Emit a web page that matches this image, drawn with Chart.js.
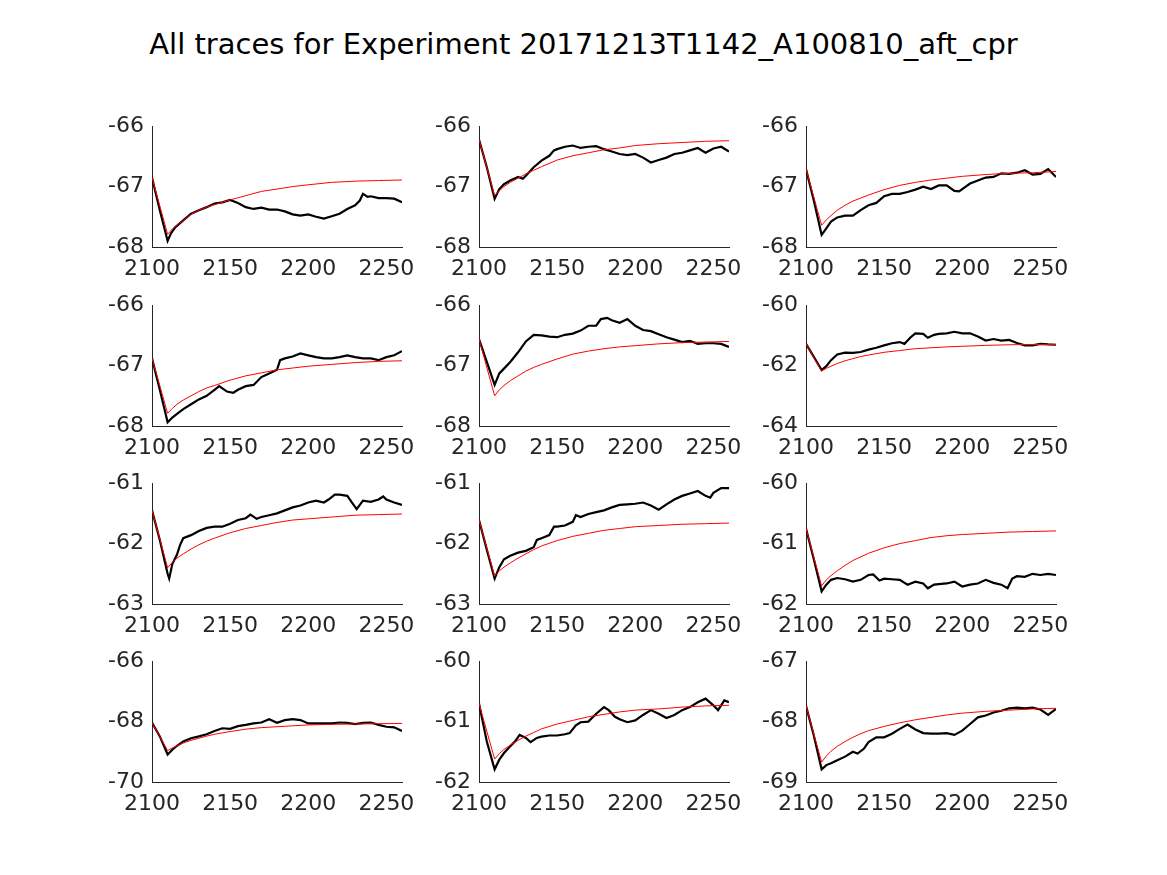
<!DOCTYPE html>
<html>
<head>
<meta charset="utf-8">
<script src="https://cdn.jsdelivr.net/npm/chart.js@4.4.1/dist/chart.umd.min.js"></script>
<style>
  body { margin: 0; background: #fff; }
  #figure { position: relative; width: 1167px; height: 875px; background: #fff; overflow: hidden; }
  #title { position: absolute; left: 0; top: 27px; width: 1167px; text-align: center;
           font-family: "DejaVu Sans"; font-size: 29px; color: #000; white-space: nowrap; }
  canvas { position: absolute; }
</style>
</head>
<body>
<div id="figure">
  <div id="title">All traces for Experiment 20171213T1142_A100810_aft_cpr</div>
</div>
<script>
// x positions of the fitted (red) curves, shared by all panels
const fitX = [2100, 2110, 2113, 2116, 2120, 2125, 2130, 2135, 2140, 2150, 2160, 2170, 2180, 2190, 2200, 2215, 2230, 2245, 2260];

const fit1 = [-66.85, -67.79, -67.70, -67.64, -67.56, -67.46, -67.39, -67.34, -67.30, -67.22, -67.15, -67.08, -67.04, -67.00, -66.97, -66.93, -66.91, -66.90, -66.89];
const fit2 = [-66.22, -67.15, -67.07, -67.00, -66.93, -66.86, -66.79, -66.73, -66.67, -66.56, -66.49, -66.44, -66.39, -66.36, -66.32, -66.29, -66.27, -66.25, -66.24];
const fit3 = [-66.71, -67.64, -67.55, -67.48, -67.39, -67.31, -67.24, -67.19, -67.14, -67.05, -66.98, -66.93, -66.89, -66.86, -66.83, -66.80, -66.78, -66.77, -66.75];
const fit4 = [-66.88, -67.79, -67.71, -67.64, -67.57, -67.50, -67.43, -67.37, -67.33, -67.24, -67.17, -67.12, -67.07, -67.04, -67.01, -66.98, -66.95, -66.93, -66.92];
const fit5 = [-66.56, -67.50, -67.40, -67.33, -67.25, -67.17, -67.09, -67.03, -66.98, -66.89, -66.81, -66.76, -66.72, -66.69, -66.67, -66.64, -66.62, -66.61, -66.60];
const fit6 = [-61.28, -62.18, -62.09, -62.02, -61.93, -61.84, -61.77, -61.70, -61.65, -61.56, -61.50, -61.44, -61.41, -61.38, -61.36, -61.33, -61.31, -61.30, -61.30];
const fit7 = [-61.45, -62.40, -62.31, -62.24, -62.17, -62.09, -62.02, -61.96, -61.91, -61.82, -61.75, -61.70, -61.65, -61.61, -61.59, -61.56, -61.53, -61.52, -61.51];
const fit8 = [-61.61, -62.54, -62.45, -62.39, -62.32, -62.24, -62.17, -62.10, -62.04, -61.95, -61.88, -61.83, -61.78, -61.75, -61.72, -61.70, -61.68, -61.67, -61.66];
const fit9 = [-60.75, -61.70, -61.60, -61.53, -61.45, -61.36, -61.28, -61.22, -61.16, -61.07, -61.00, -60.95, -60.90, -60.87, -60.85, -60.83, -60.81, -60.80, -60.79];
const fit10 = [-68.03, -68.96, -68.87, -68.80, -68.71, -68.62, -68.55, -68.48, -68.42, -68.33, -68.25, -68.20, -68.17, -68.14, -68.11, -68.09, -68.08, -68.07, -68.06];
const fit11 = [-60.70, -61.62, -61.53, -61.46, -61.39, -61.31, -61.24, -61.18, -61.12, -61.04, -60.98, -60.92, -60.88, -60.84, -60.81, -60.79, -60.76, -60.74, -60.73];
const fit12 = [-67.74, -68.67, -68.57, -68.49, -68.41, -68.33, -68.26, -68.20, -68.15, -68.08, -68.02, -67.97, -67.93, -67.89, -67.86, -67.83, -67.81, -67.79, -67.78];

// recorded (black) traces
const t1x = [2100, 2105, 2110, 2112, 2115, 2120, 2125, 2130, 2135, 2140, 2145, 2150, 2155, 2160, 2165, 2170, 2175, 2180, 2185, 2190, 2195, 2200, 2205, 2210, 2215, 2220, 2225, 2230, 2233, 2235, 2238, 2240, 2245, 2250, 2255, 2260];
const t1y = [-66.85, -67.39, -67.90, -67.78, -67.67, -67.56, -67.45, -67.39, -67.34, -67.28, -67.26, -67.22, -67.27, -67.34, -67.37, -67.35, -67.38, -67.38, -67.41, -67.46, -67.48, -67.46, -67.50, -67.53, -67.49, -67.45, -67.37, -67.31, -67.23, -67.12, -67.17, -67.16, -67.19, -67.19, -67.20, -67.26];

const t2x = [2100, 2105, 2110, 2113, 2116, 2120, 2125, 2128, 2130, 2135, 2140, 2145, 2148, 2150, 2155, 2160, 2165, 2170, 2175, 2180, 2185, 2190, 2195, 2200, 2205, 2210, 2215, 2220, 2225, 2230, 2235, 2240, 2245, 2250, 2255, 2260];
const t2y = [-66.22, -66.68, -67.20, -67.04, -66.96, -66.90, -66.84, -66.87, -66.82, -66.68, -66.57, -66.49, -66.40, -66.38, -66.34, -66.32, -66.36, -66.34, -66.33, -66.38, -66.42, -66.46, -66.48, -66.46, -66.52, -66.60, -66.56, -66.52, -66.46, -66.44, -66.40, -66.36, -66.44, -66.37, -66.34, -66.42];

const t3x = [2100, 2105, 2110, 2113, 2116, 2120, 2125, 2130, 2135, 2140, 2145, 2150, 2155, 2160, 2165, 2170, 2175, 2180, 2185, 2190, 2195, 2198, 2200, 2205, 2210, 2215, 2220, 2225, 2230, 2235, 2240, 2245, 2250, 2255, 2260];
const t3y = [-66.71, -67.23, -67.80, -67.69, -67.58, -67.51, -67.48, -67.48, -67.39, -67.31, -67.27, -67.16, -67.12, -67.12, -67.09, -67.05, -67.00, -67.04, -66.98, -66.98, -67.07, -67.08, -67.04, -66.95, -66.90, -66.85, -66.84, -66.78, -66.79, -66.77, -66.73, -66.80, -66.79, -66.71, -66.84];

const t4x = [2100, 2105, 2110, 2113, 2116, 2120, 2125, 2130, 2135, 2140, 2143, 2148, 2152, 2155, 2160, 2165, 2170, 2175, 2180, 2182, 2185, 2190, 2195, 2200, 2205, 2210, 2215, 2220, 2225, 2230, 2235, 2240, 2245, 2250, 2255, 2260];
const t4y = [-66.88, -67.40, -67.94, -67.86, -67.80, -67.72, -67.64, -67.56, -67.50, -67.40, -67.34, -67.43, -67.45, -67.40, -67.34, -67.32, -67.19, -67.13, -67.07, -66.91, -66.88, -66.85, -66.80, -66.83, -66.86, -66.88, -66.88, -66.86, -66.83, -66.86, -66.88, -66.88, -66.91, -66.86, -66.83, -66.76];

const t5x = [2100, 2105, 2110, 2113, 2116, 2120, 2125, 2130, 2135, 2140, 2145, 2150, 2155, 2160, 2165, 2170, 2175, 2178, 2182, 2185, 2190, 2195, 2200, 2205, 2210, 2215, 2220, 2225, 2230, 2235, 2240, 2245, 2250, 2255, 2260];
const t5y = [-66.56, -66.94, -67.32, -67.13, -67.05, -66.94, -66.78, -66.60, -66.49, -66.50, -66.52, -66.53, -66.49, -66.47, -66.42, -66.34, -66.34, -66.23, -66.21, -66.25, -66.29, -66.23, -66.34, -66.41, -66.43, -66.48, -66.53, -66.57, -66.61, -66.59, -66.64, -66.63, -66.63, -66.64, -66.69];

const t6x = [2100, 2105, 2110, 2113, 2116, 2120, 2125, 2130, 2135, 2140, 2145, 2150, 2155, 2160, 2163, 2167, 2170, 2175, 2178, 2182, 2185, 2190, 2195, 2200, 2205, 2210, 2215, 2220, 2225, 2230, 2235, 2240, 2245, 2250, 2255, 2260];
const t6y = [-61.28, -61.71, -62.15, -62.02, -61.82, -61.63, -61.57, -61.58, -61.55, -61.47, -61.41, -61.33, -61.26, -61.22, -61.28, -61.06, -60.93, -60.95, -61.08, -60.98, -60.95, -60.93, -60.88, -60.93, -60.93, -61.04, -61.17, -61.12, -61.17, -61.15, -61.25, -61.33, -61.33, -61.28, -61.30, -61.31];

const t7x = [2100, 2105, 2110, 2111, 2113, 2116, 2118, 2120, 2125, 2130, 2135, 2140, 2145, 2150, 2155, 2160, 2163, 2167, 2170, 2175, 2180, 2185, 2190, 2195, 2200, 2205, 2210, 2213, 2217, 2220, 2225, 2228, 2231, 2235, 2240, 2245, 2248, 2250, 2255, 2260];
const t7y = [-61.45, -61.94, -62.50, -62.58, -62.34, -62.18, -62.02, -61.91, -61.86, -61.79, -61.74, -61.72, -61.72, -61.67, -61.61, -61.58, -61.52, -61.59, -61.56, -61.53, -61.50, -61.45, -61.40, -61.37, -61.32, -61.29, -61.32, -61.27, -61.19, -61.19, -61.21, -61.32, -61.43, -61.29, -61.31, -61.27, -61.22, -61.27, -61.32, -61.36];

const t8x = [2100, 2105, 2110, 2113, 2116, 2120, 2125, 2130, 2135, 2137, 2140, 2145, 2148, 2150, 2155, 2160, 2162, 2165, 2170, 2175, 2180, 2185, 2190, 2195, 2200, 2205, 2210, 2215, 2220, 2225, 2230, 2235, 2240, 2245, 2248, 2250, 2255, 2260];
const t8y = [-61.61, -62.10, -62.58, -62.39, -62.26, -62.20, -62.15, -62.12, -62.06, -61.94, -61.91, -61.86, -61.72, -61.72, -61.70, -61.64, -61.53, -61.56, -61.51, -61.48, -61.45, -61.40, -61.36, -61.35, -61.34, -61.32, -61.37, -61.44, -61.35, -61.27, -61.21, -61.17, -61.13, -61.21, -61.24, -61.16, -61.08, -61.08];

const t9x = [2100, 2105, 2110, 2113, 2116, 2120, 2125, 2130, 2135, 2140, 2143, 2147, 2150, 2155, 2160, 2165, 2170, 2175, 2178, 2182, 2185, 2190, 2195, 2200, 2205, 2210, 2215, 2220, 2225, 2229, 2232, 2235, 2240, 2245, 2250, 2255, 2260];
const t9y = [-60.75, -61.26, -61.79, -61.68, -61.60, -61.57, -61.59, -61.63, -61.60, -61.52, -61.51, -61.61, -61.58, -61.59, -61.60, -61.68, -61.63, -61.66, -61.74, -61.68, -61.67, -61.66, -61.63, -61.71, -61.68, -61.66, -61.60, -61.65, -61.68, -61.74, -61.58, -61.54, -61.55, -61.50, -61.52, -61.50, -61.52];

const t10x = [2100, 2105, 2110, 2113, 2116, 2120, 2125, 2130, 2135, 2140, 2145, 2150, 2155, 2160, 2165, 2170, 2175, 2180, 2185, 2190, 2195, 2200, 2205, 2210, 2215, 2220, 2225, 2230, 2235, 2240, 2245, 2250, 2255, 2260];
const t10y = [-68.03, -68.49, -69.09, -68.93, -68.80, -68.66, -68.55, -68.49, -68.42, -68.31, -68.22, -68.24, -68.15, -68.11, -68.06, -68.03, -67.92, -68.04, -67.95, -67.92, -67.95, -68.06, -68.06, -68.06, -68.06, -68.03, -68.04, -68.08, -68.04, -68.03, -68.11, -68.17, -68.19, -68.31];

const t11x = [2100, 2105, 2110, 2113, 2116, 2120, 2123, 2126, 2130, 2133, 2137, 2140, 2145, 2150, 2155, 2158, 2162, 2165, 2170, 2175, 2180, 2183, 2187, 2190, 2195, 2200, 2205, 2210, 2215, 2220, 2225, 2230, 2235, 2240, 2245, 2250, 2253, 2257, 2260];
const t11y = [-60.70, -61.33, -61.79, -61.63, -61.52, -61.41, -61.33, -61.22, -61.27, -61.34, -61.27, -61.25, -61.23, -61.23, -61.21, -61.19, -61.06, -61.01, -61.00, -60.87, -60.76, -60.81, -60.92, -60.96, -61.01, -60.98, -60.89, -60.81, -60.87, -60.94, -60.89, -60.81, -60.76, -60.68, -60.62, -60.73, -60.81, -60.65, -60.68];

const t12x = [2100, 2105, 2110, 2113, 2116, 2120, 2125, 2130, 2133, 2137, 2140, 2145, 2150, 2155, 2160, 2165, 2170, 2175, 2180, 2185, 2190, 2195, 2200, 2205, 2210, 2215, 2220, 2225, 2230, 2235, 2240, 2245, 2250, 2255, 2260];
const t12y = [-67.74, -68.23, -68.79, -68.72, -68.69, -68.64, -68.58, -68.50, -68.53, -68.45, -68.34, -68.26, -68.26, -68.20, -68.12, -68.05, -68.13, -68.19, -68.20, -68.20, -68.19, -68.22, -68.15, -68.04, -67.93, -67.90, -67.85, -67.82, -67.78, -67.77, -67.78, -67.77, -67.80, -67.89, -67.79];

// axis limits per panel
const xTicks = [2100, 2150, 2200, 2250];
const yMins = [-68, -68, -68, -68, -68, -64, -63, -63, -62, -70, -62, -69];
const yMaxs = [-66, -66, -66, -66, -66, -60, -61, -61, -60, -66, -60, -67];
const ySteps = [1, 1, 1, 1, 1, 2, 1, 1, 1, 2, 1, 1];

const traces = [[t1x, t1y], [t2x, t2y], [t3x, t3y], [t4x, t4y], [t5x, t5y], [t6x, t6y],
                [t7x, t7y], [t8x, t8y], [t9x, t9y], [t10x, t10y], [t11x, t11y], [t12x, t12y]];
const fits = [fit1, fit2, fit3, fit4, fit5, fit6, fit7, fit8, fit9, fit10, fit11, fit12];

// layout of the subplot grid (pixels)
const colLeft = [152, 479, 806];
const rowTop = [125, 304, 482, 660];
const plotW = 250, plotH = 122;
const padL = 70, padT = 20, padR = 30, padB = 46;
const axisColor = "#262626";
const tickFont = { family: "DejaVu Sans", size: 22 };

function toPoints(xs, ys) {
    return xs.map((x, i) => ({ x: x, y: ys[i] }));
}

const figure = document.getElementById("figure");

for (let k = 0; k < 12; k++) {
    let row = Math.floor(k / 3), col = k % 3;
    let canvas = document.createElement("canvas");
    canvas.width = padL + plotW + padR;
    canvas.height = padT + plotH + padB;
    canvas.style.left = (colLeft[col] - padL) + "px";
    canvas.style.top = (rowTop[row] - padT) + "px";
    figure.appendChild(canvas);

    new Chart(canvas.getContext("2d"), {
        type: "line",
        data: {
            datasets: [
                {
                    data: toPoints(fitX, fits[k]),
                    borderColor: "#ff0000",
                    borderWidth: 1,
                    pointRadius: 0,
                    tension: 0
                },
                {
                    data: toPoints(traces[k][0], traces[k][1]),
                    borderColor: "#000000",
                    borderWidth: 2.2,
                    pointRadius: 0,
                    tension: 0
                }
            ]
        },
        options: {
            responsive: false,
            animation: false,
            devicePixelRatio: 1,
            layout: { padding: { top: padT, right: padR, left: 0, bottom: 0 } },
            plugins: { legend: { display: false }, tooltip: { enabled: false } },
            scales: {
                x: {
                    type: "linear",
                    min: 2100,
                    max: 2260,
                    afterFit: s => { s.height = padB; },
                    afterBuildTicks: s => { s.ticks = xTicks.map(v => ({ value: v })); },
                    grid: { display: false, drawTicks: false },
                    border: { display: true, color: axisColor, width: 1 },
                    ticks: {
                        autoSkip: false, maxRotation: 0, padding: 9,
                        color: axisColor, font: tickFont,
                        callback: v => String(v)
                    }
                },
                y: {
                    type: "linear",
                    min: yMins[k],
                    max: yMaxs[k],
                    afterFit: s => { s.width = padL; },
                    grid: { display: false, drawTicks: false },
                    border: { display: true, color: axisColor, width: 1 },
                    ticks: {
                        stepSize: ySteps[k], includeBounds: false, padding: 8,
                        color: axisColor, font: tickFont,
                        callback: v => String(v)
                    }
                }
            }
        }
    });
}
</script>
</body>
</html>
